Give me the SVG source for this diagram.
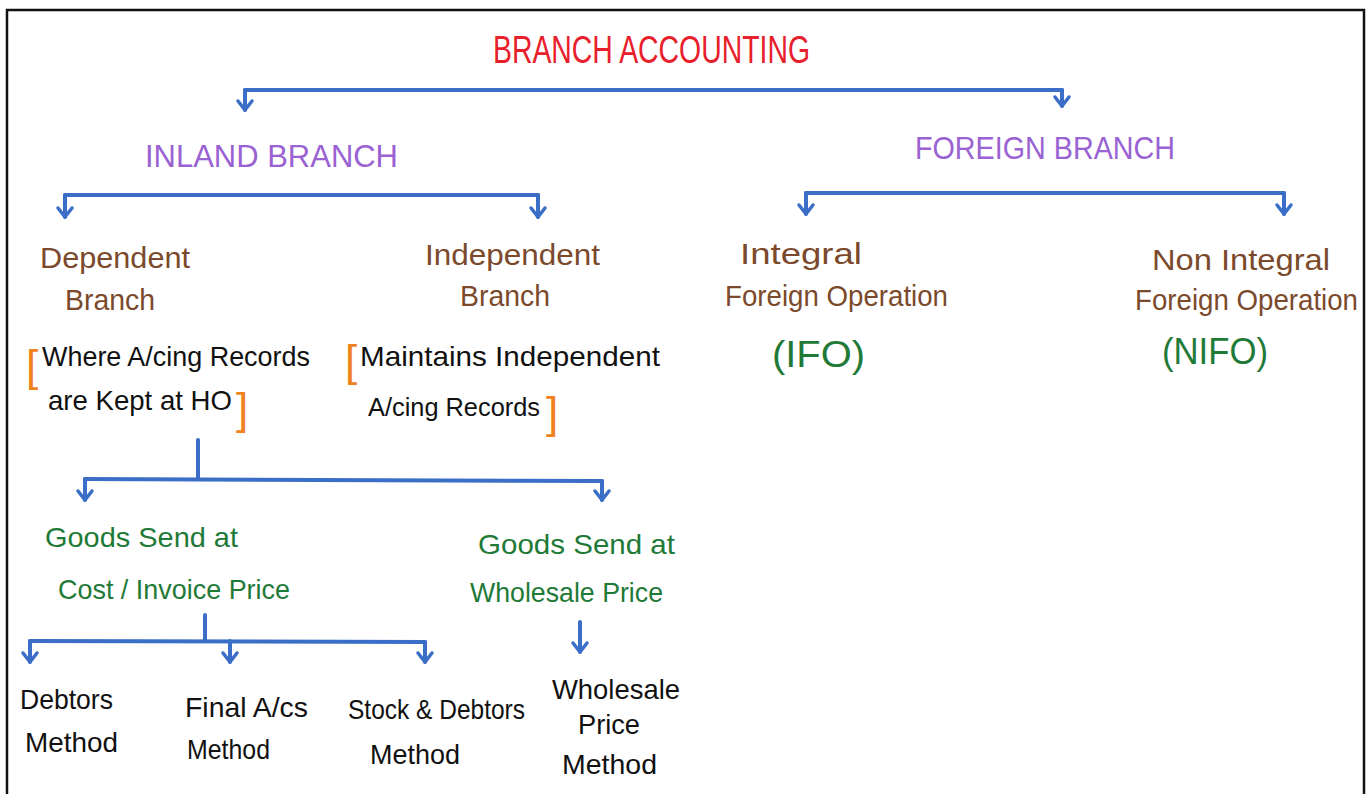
<svg xmlns="http://www.w3.org/2000/svg" width="1371" height="794" viewBox="0 0 1371 794">
<defs>
<marker id="arr" markerUnits="userSpaceOnUse" markerWidth="24" markerHeight="24" viewBox="-12 -12 24 24" refX="0" refY="0" orient="auto">
<path d="M-9,-7 L0,0 L-9,7" fill="none" stroke="#3b6ec6" stroke-width="3.5" stroke-linecap="round" stroke-linejoin="round"/>
</marker>
</defs>
<style>
text{font-family:"Liberation Sans","DejaVu Sans",sans-serif;}
.t{fill:#e8202c;font-size:38px;}
.p{fill:#9a62d2;font-size:31px;}
.b{fill:#7b4a2c;font-size:29px;}
.g{fill:#1f7a38;font-size:28px;}
.gb{fill:#1f7a38;font-size:36px;}
.k{fill:#111;font-size:28px;}
.o{fill:#f0821e;font-size:44px;}
.c{fill:none;stroke:#3b6ec6;stroke-width:4;stroke-linecap:round;stroke-linejoin:round;}
</style>
<rect width="1371" height="794" fill="#fff"/>
<path d="M7,794 L7,10 L1364,10 L1364,794" fill="none" stroke="#111" stroke-width="2.5"/>

<g id="connectors">
<path class="c" d="M245,90 L1062,90"/>
<path class="c" d="M245,90 L245,110" marker-end="url(#arr)"/>
<path class="c" d="M1062,90 L1062,106" marker-end="url(#arr)"/>
<path class="c" d="M65,195 L538,195"/>
<path class="c" d="M65,195 L65,217" marker-end="url(#arr)"/>
<path class="c" d="M538,195 L538,217" marker-end="url(#arr)"/>
<path class="c" d="M806,193 L1284,193"/>
<path class="c" d="M806,193 L806,214" marker-end="url(#arr)"/>
<path class="c" d="M1284,193 L1284,214" marker-end="url(#arr)"/>
<path class="c" d="M198,440 L198,479"/>
<path class="c" d="M85,479 L602,481"/>
<path class="c" d="M85,479 L85,500" marker-end="url(#arr)"/>
<path class="c" d="M602,481 L602,500" marker-end="url(#arr)"/>
<path class="c" d="M205,615 L205,641"/>
<path class="c" d="M30,641 L425,642"/>
<path class="c" d="M30,641 L30,662" marker-end="url(#arr)"/>
<path class="c" d="M230,641 L230,662" marker-end="url(#arr)"/>
<path class="c" d="M425,642 L425,662" marker-end="url(#arr)"/>
<path class="c" d="M580,622 L580,652" marker-end="url(#arr)"/>
</g>

<g id="title"><text class="t" x="493" y="63" textLength="317" lengthAdjust="spacingAndGlyphs">BRANCH ACCOUNTING</text></g>
<g id="inland"><text class="p" x="145" y="167" textLength="253" lengthAdjust="spacingAndGlyphs">INLAND BRANCH</text></g>
<g id="foreign"><text class="p" x="915" y="159" textLength="260" lengthAdjust="spacingAndGlyphs">FOREIGN BRANCH</text></g>

<g id="dependent">
<text class="b" x="40" y="268" textLength="150" lengthAdjust="spacingAndGlyphs">Dependent</text>
<text class="b" x="65" y="310" textLength="90" lengthAdjust="spacingAndGlyphs">Branch</text>
<text class="o" x="26" y="381">[</text>
<text class="k" x="42" y="366" textLength="268" lengthAdjust="spacingAndGlyphs">Where A/cing Records</text>
<text class="k" x="48" y="410" textLength="184" lengthAdjust="spacingAndGlyphs">are Kept at HO</text>
<text class="o" x="236" y="424">]</text>
</g>

<g id="independent">
<text class="b" x="425" y="265" textLength="175" lengthAdjust="spacingAndGlyphs">Independent</text>
<text class="b" x="460" y="306" textLength="90" lengthAdjust="spacingAndGlyphs">Branch</text>
<text class="o" x="345" y="376">[</text>
<text class="k" x="360" y="366" textLength="300" lengthAdjust="spacingAndGlyphs">Maintains Independent</text>
<text class="k" x="368" y="416" style="font-size:25px" textLength="172" lengthAdjust="spacingAndGlyphs">A/cing Records</text>
<text class="o" x="546" y="428">]</text>
</g>

<g id="integral">
<text class="b" x="740" y="264" textLength="122" lengthAdjust="spacingAndGlyphs">Integral</text>
<text class="b" x="725" y="306" textLength="223" lengthAdjust="spacingAndGlyphs">Foreign Operation</text>
<text class="gb" x="772" y="367" textLength="93" lengthAdjust="spacingAndGlyphs">(IFO)</text>
</g>

<g id="nonintegral">
<text class="b" x="1152" y="270" textLength="178" lengthAdjust="spacingAndGlyphs">Non Integral</text>
<text class="b" x="1135" y="310" textLength="223" lengthAdjust="spacingAndGlyphs">Foreign Operation</text>
<text class="gb" x="1162" y="364" textLength="106" lengthAdjust="spacingAndGlyphs">(NIFO)</text>
</g>

<g id="goods-cost">
<text class="g" x="45" y="547" textLength="193" lengthAdjust="spacingAndGlyphs">Goods Send at</text>
<text class="g" x="58" y="599" textLength="232" lengthAdjust="spacingAndGlyphs">Cost / Invoice Price</text>
</g>

<g id="goods-wholesale">
<text class="g" x="478" y="554" textLength="197" lengthAdjust="spacingAndGlyphs">Goods Send at</text>
<text class="g" x="470" y="602" textLength="193" lengthAdjust="spacingAndGlyphs">Wholesale Price</text>
</g>

<g id="debtors">
<text class="k" x="20" y="709" textLength="93" lengthAdjust="spacingAndGlyphs">Debtors</text>
<text class="k" x="25" y="752" textLength="93" lengthAdjust="spacingAndGlyphs">Method</text>
</g>

<g id="finalacs">
<text class="k" x="185" y="717" textLength="123" lengthAdjust="spacingAndGlyphs">Final A/cs</text>
<text class="k" x="187" y="759" textLength="83" lengthAdjust="spacingAndGlyphs">Method</text>
</g>

<g id="stockdebtors">
<text class="k" x="348" y="719" textLength="177" lengthAdjust="spacingAndGlyphs">Stock &amp; Debtors</text>
<text class="k" x="370" y="764" textLength="90" lengthAdjust="spacingAndGlyphs">Method</text>
</g>

<g id="wholesalemethod">
<text class="k" x="552" y="699" textLength="128" lengthAdjust="spacingAndGlyphs">Wholesale</text>
<text class="k" x="578" y="734" textLength="62" lengthAdjust="spacingAndGlyphs">Price</text>
<text class="k" x="562" y="774" textLength="95" lengthAdjust="spacingAndGlyphs">Method</text>
</g>
</svg>
